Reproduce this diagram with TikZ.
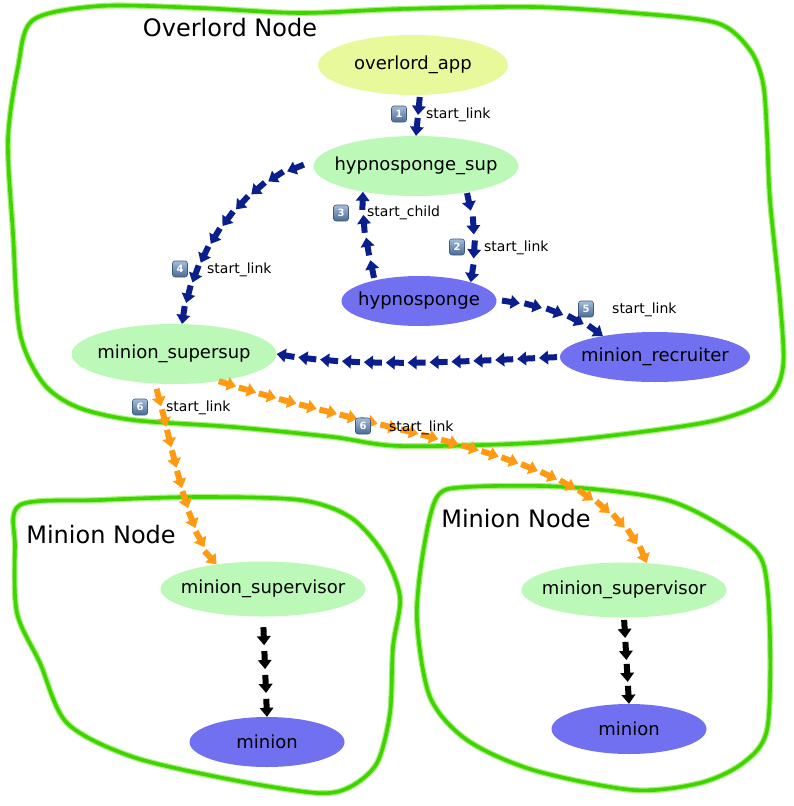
\documentclass[tikz,border=0pt]{standalone}
\usepackage{fontspec}
\setmainfont{DejaVu Sans}
\usetikzlibrary{shapes.geometric,decorations.markings}

\definecolor{lgreen}{HTML}{BCF9B8}
\definecolor{lyellow}{HTML}{E8F99C}
\definecolor{purp}{HTML}{7070F0}
\definecolor{navy}{HTML}{0A1F8C}
\definecolor{orng}{HTML}{FF9A12}
\definecolor{gline}{HTML}{3FD400}
\definecolor{ghalo}{HTML}{A8F080}
\definecolor{badgetop}{HTML}{A4BCDA}
\definecolor{badgebot}{HTML}{4A6A94}

\tikzset{
  proc/.style={ellipse, inner sep=0pt, font=\fontsize{18}{20}\selectfont},
  sup/.style={proc, fill=lgreen},
  app/.style={proc, fill=lyellow},
  wrk/.style={proc, fill=purp},
  title/.style={font=\fontsize{24}{26}\selectfont, inner sep=0pt},
  lbl/.style={font=\fontsize{14}{16}\selectfont, inner sep=0pt, anchor=west},
  badge/.style={rounded corners=2.5pt, minimum width=15pt, minimum height=16pt,
    inner sep=0pt, draw=badgebot!85!black, line width=0.6pt,
    top color=badgetop, bottom color=badgebot, text=white,
    font=\fontsize{10}{10}\selectfont\bfseries},
  boundary/.style={line width=6pt, ghalo, line join=round,
    postaction={draw, gline, line width=3.6pt}},
  % path runs from the target back to the source; each small arrow has its
  % tip at the mark and points back along the path, i.e. toward the target.
  % #1 colour, #2 spacing, #3 distance of the last arrow tip
  chain/.style n args={3}{postaction={decorate}, decoration={markings,
    mark=between positions 0pt and #3 step #2 with {
      \fill[#1] (0pt,0pt) -- (9pt,7pt) -- (9pt,3pt) -- (18pt,3pt)
        -- (18pt,-3pt) -- (9pt,-3pt) -- (9pt,-7pt) -- cycle;}}},
}

\begin{document}
\begin{tikzpicture}[x=1pt,y=-1pt]
\useasboundingbox (0,0) rectangle (794,806);

% hand drawn node boundaries
\draw[boundary] plot[smooth cycle, tension=0.5] coordinates {
  (33,20) (100,6) (200,8) (300,13) (400,9) (533,7) (633,13) (717,23)
  (750,50) (763,83) (767,133) (770,200) (780,300) (783,367) (767,400)
  (717,420) (633,433) (533,443) (400,446) (333,437) (233,427) (133,420)
  (77,407) (43,383) (20,333) (13,233) (8,140) (18,67)};
\draw[boundary] plot[smooth cycle, tension=0.5] coordinates {
  (20,505) (100,500) (200,497) (300,500) (350,517) (383,553) (400,597)
  (393,647) (390,713) (377,763) (350,787) (317,793) (233,780) (133,757)
  (67,723) (40,663) (17,613) (15,547)};
\draw[boundary] plot[smooth cycle, tension=0.5] coordinates {
  (437,497) (467,487) (567,487) (667,500) (733,533) (763,563) (770,637)
  (767,730) (743,763) (700,783) (633,790) (533,770) (467,740) (430,697)
  (417,620) (423,553)};

% titles
\node[title] (tov) at (230,28) {Overlord Node};
\node[title] (tml) at (101,535) {Minion Node};
\node[title] (tmr) at (516,519) {Minion Node};

% processes
\node[app, minimum width=190pt, minimum height=60pt] (app) at (413,65) {\makebox[0pt]{overlord\_app}};
\node[sup, minimum width=205pt, minimum height=60pt] (hsup) at (416,166) {\makebox[0pt]{hypnosponge\_sup}};
\node[wrk, minimum width=155pt, minimum height=50pt] (hyp) at (419,301) {\makebox[0pt]{hypnosponge}};
\node[sup, minimum width=205pt, minimum height=60pt] (mss) at (174,354) {\makebox[0pt]{minion\_supersup}};
\node[wrk, minimum width=190pt, minimum height=50pt] (rec) at (655,357) {\makebox[0pt]{minion\_recruiter}};
\node[sup, minimum width=205pt, minimum height=55pt] (msl) at (263,589) {\makebox[0pt]{minion\_supervisor}};
\node[wrk, minimum width=155pt, minimum height=50pt] (minl) at (267,742) {\makebox[0pt]{minion}};
\node[sup, minimum width=205pt, minimum height=55pt] (msr) at (624,590) {\makebox[0pt]{minion\_supervisor}};
\node[wrk, minimum width=155pt, minimum height=50pt] (minr) at (629,729) {\makebox[0pt]{minion}};

% connectors (written target first, see the chain style)
\path[chain={navy}{21pt}{22pt}] (hsup.north) -- (app.-77);
\path[chain={navy}{24pt}{73pt}] (hyp.20) .. controls (475,255) and (477,225) .. (hsup.-28);
\path[chain={navy}{23pt}{70pt}] (hsup.206) .. controls (362,220) and (366,240) .. (hyp.155);
\path[chain={navy}{21.4pt}{194pt}] (mss.75) .. controls (195,235) and (265,165) .. (hsup.180);
\path[chain={navy}{22.5pt}{91pt}] (rec.158) .. controls (578,318) and (540,303) .. (hyp.0);
\path[chain={navy}{21.9pt}{264pt}] (mss.0) .. controls (360,368) and (450,362) .. (rec.180);
\path[chain={orng}{21.1pt}{170pt}] (msl.152) .. controls (185,530) and (172,440) .. (mss.-123);
\path[chain={orng}{20.9pt}{461pt}] (msr.50) .. controls (600,450) and (400,440) .. (mss.-31.5);
\path[chain={black}{23.9pt}{73pt}] (minl.north) -- (msl.south);
\path[chain={black}{22pt}{67pt}] (minr.north) -- (msr.south);

% badges and labels
\node[badge] (b1) at (399,114) {1};
\node[lbl] (l1) at (426,115) {start\_link};
\node[badge] (b2) at (457,247) {2};
\node[lbl] (l2) at (484,248) {start\_link};
\node[badge] (b3) at (341,213) {3};
\node[lbl] (l3) at (367,213) {start\_child};
\node[badge] (b4) at (180,269) {4};
\node[lbl] (l4) at (207,270) {start\_link};
\node[badge] (b5) at (586,309) {5};
\node[lbl] (l5) at (612,310) {start\_link};
\node[badge] (b6a) at (140,407) {6};
\node[lbl] (l6a) at (166,408) {start\_link};
\node[badge] (b6b) at (363,426) {6};
\node[lbl] (l6b) at (389,428) {start\_link};
\end{tikzpicture}
\end{document}
